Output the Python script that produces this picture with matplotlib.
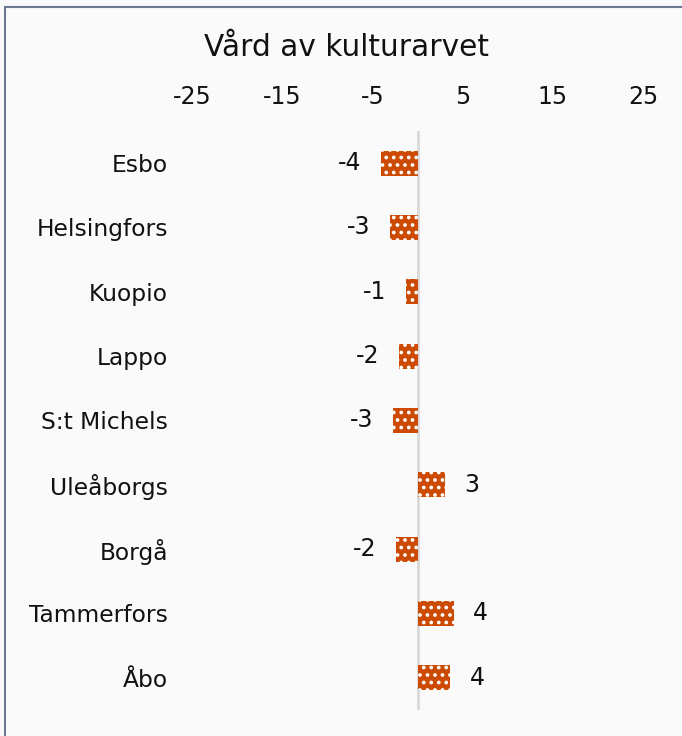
import matplotlib.pyplot as plt
from matplotlib.patches import Rectangle

# Data
cities = ["Esbo", "Helsingfors", "Kuopio", "Lappo", "S:t Michels",
          "Uleåborgs", "Borgå", "Tammerfors", "Åbo"]
values = [-4.1, -3.1, -1.3, -2.1, -2.7, 3.0, -2.4, 4.0, 3.6]
value_labels = ["-4", "-3", "-1", "-2", "-3", "3", "-2", "4", "4"]
xticks = [-25, -15, -5, 5, 15, 25]

W, H = 682, 736
DPI = 90          # hatch unit is one inch, so dpi sets the dot spacing
S = 100 / DPI     # keep sizes as if drawn at 100 dpi

plt.rcParams["hatch.linewidth"] = 1.6 * S
fig = plt.figure(figsize=(W / DPI, H / DPI), dpi=DPI)
fig.patch.set_facecolor("#fafafa")

# frame around the chart (left and top edges visible)
fig.patches.append(Rectangle((5 / W, -0.1), 1.2, (H - 7) / H + 0.1,
                             transform=fig.transFigure, fill=False,
                             edgecolor="#6b7890", linewidth=1.5 * S))

# axes placed so -25 -> 192px, 25 -> 643px, rows 163..678px
xmin, xmax = -27.2, 29.3
px_per_unit = 9.02
left = 417.5 + xmin * px_per_unit
right = 417.5 + xmax * px_per_unit
top, bottom = 131, 710
ax = fig.add_axes([left / W, 1 - bottom / H, (right - left) / W, (bottom - top) / H])
ax.set_facecolor("#fafafa")

ypos = list(range(len(cities)))
ax.barh(ypos, values, height=0.39, color="#cc4a02", edgecolor="white",
        linewidth=0, hatch="..", zorder=3)

ax.axvline(0, color="#d9d9d9", linewidth=2 * S, zorder=2)

for y, v, lab in zip(ypos, values, value_labels):
    off = 14 * S if v > 0 else -14 * S
    ax.annotate(lab, (v, y), xytext=(off, 0), textcoords="offset points",
                ha="left" if v > 0 else "right", va="center",
                fontsize=17 * S, color="#111111")

ax.set_xlim(xmin, xmax)
ax.set_ylim(len(cities) - 0.5, -0.5)
ax.set_xticks(xticks)
ax.set_xticklabels([str(t) for t in xticks])
ax.xaxis.tick_top()
ax.tick_params(axis="x", length=0, pad=16 * S, labelsize=17 * S, colors="#111111")
ax.set_yticks(ypos)
ax.set_yticklabels(cities)
ax.tick_params(axis="y", length=0, pad=3 * S, labelsize=16.8 * S, colors="#111111")
for s in ax.spines.values():
    s.set_visible(False)

fig.text(347 / W, 1 - 47 / H, "Vård av kulturarvet", ha="center", va="center",
         fontsize=21.3 * S, color="#111111")

fig.savefig("out.png", dpi=DPI, facecolor=fig.get_facecolor())
